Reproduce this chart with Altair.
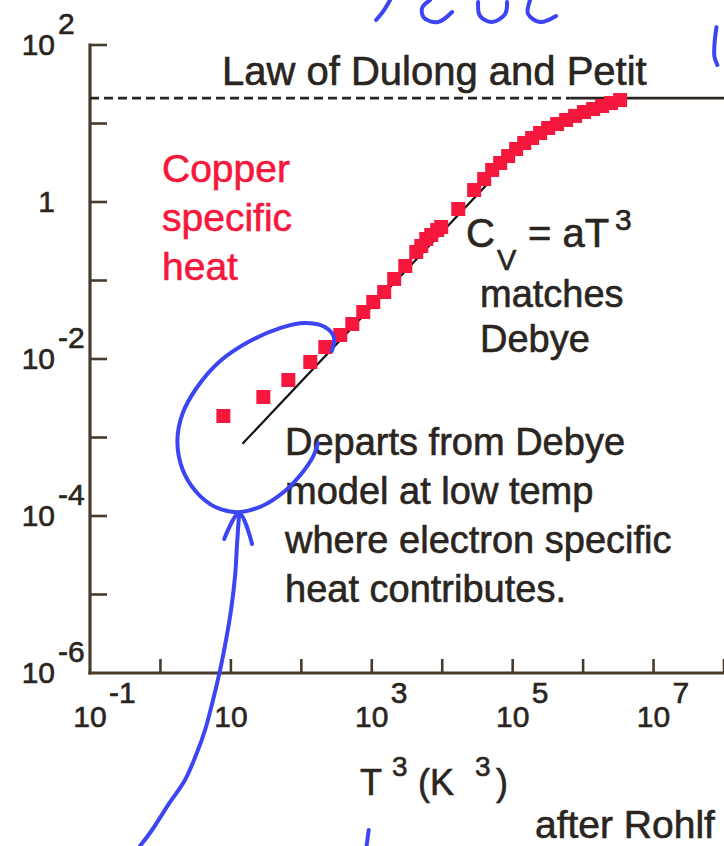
import altair as alt
import pandas as pd

# Copper molar heat capacity C (J/mol K) against T^3 (K^3)
cu_t3 = [7.83, 28.9, 65.4, 134, 219, 357, 529, 757, 1050, 1500, 2080, 2990,
         4280, 5040, 5930, 6980, 8490, 9680, 16900, 28400, 39400, 51200,
         66500, 86300, 1.12e5, 1.46e5, 1.89e5, 2.45e5, 3.19e5, 4.28e5,
         5.74e5, 7.71e5, 1.03e6, 1.39e6, 1.86e6, 2.49e6, 3.35e6]
cu_cv = [1.88e-3, 3.28e-3, 5.40e-3, 9.16e-3, 0.0142, 0.0202, 0.0279, 0.0397,
         0.0532, 0.0714, 0.1045, 0.153, 0.231, 0.275, 0.338, 0.380, 0.440,
         0.481, 0.814, 1.42, 1.96, 2.56, 3.14, 3.85, 4.73, 5.64, 6.53, 7.57,
         8.76, 9.86, 11.1, 12.5, 14.0, 15.3, 16.7, 18.2, 19.9]

# Debye T^3 law segment
debye_t3 = [14.6, 4.8e4]
debye_cv = [8.3e-4, 1.85]

# Dulong-Petit limit
dp_cv = 21.0
dp_dash_t3 = [0.1, 6.6e5]
dp_solid_t3 = [6.6e5, 1.0e8]

# axis ticks and labels
x_ticks = [1, 10, 100, 1e3, 1e4, 1e5, 1e6, 1e7, 1e8]
y_ticks = [1e-5, 1e-4, 1e-3, 1e-2, 0.1, 1, 10, 100]
x_label_vals = [0.1, 10, 1e3, 1e5, 1e7]
x_label_exp = ["-1", "", "3", "5", "7"]
y_label_vals = [100, 1, 1e-2, 1e-4, 1e-6]
y_label_base = ["10", "1", "10", "10", "10"]
y_label_exp = ["2", "", "-2", "-4", "-6"]

# hand-drawn pen marks (in T^3 / C units)
loop_t3 = [271, 289, 216, 112, 49.8, 18.7, 7.06, 3.33, 2.05, 1.74, 2.05,
           3.23, 6.00, 12.7, 27.7, 58.6, 105, 146, 172]
loop_cv = [0.01265, 0.01905, 0.0256, 0.0288, 0.0248, 0.01694, 0.00944,
           0.00440, 0.00199, 0.000902, 0.000397, 0.000202, 0.000130,
           0.000112, 0.000134, 0.000208, 0.000364, 0.000565, 0.000851]
arrow_t3 = [0.513, 0.760, 1.28, 2.23, 3.20, 4.30, 5.58, 7.02, 8.53, 10.05,
            11.5, 12.2, 13.1]
arrow_cv = [6.25e-9, 1.0e-8, 2.08e-8, 4.34e-8, 9.02e-8, 1.88e-7, 4.53e-7,
            1.09e-6, 2.63e-6, 6.35e-6, 1.77e-5, 4.27e-5, 1.09e-4]
head_t3 = [8.04, 13.1, 20.0]
head_cv = [5.09e-5, 1.09e-4, 4.4e-5]
nick_t3 = [847, 904]
nick_cv = [6.44e-9, 1.0e-8]
stem_t3 = [7.82e7, 7.33e7, 7.33e7, 8.07e7]
stem_cv = [169, 103, 70.3, 55.6]
scrawl = {
    "a": ([1819, 1494, 1151], [374, 279, 208]),
    "b": ([6714, 5176, 5521, 8730, 13800], [374, 296, 221, 196, 263]),
    "c": ([32300, 34400, 50900, 78000, 83200], [353, 234, 196, 248, 353]),
    "d": ([176600, 165600, 245000, 413000], [374, 248, 196, 234]),
}

W, H = 634, 628
INK = "#2a2520"
AXIS = "#4a3c2c"
RED = "#f5173c"
PEN = "#3b45f2"
FONT = "Liberation Sans"

xs = alt.Scale(type="log", domain=[0.1, 1.0e8], nice=False)
ys = alt.Scale(type="log", domain=[1e-6, 100], nice=False)


def X(field="t3"):
    return alt.X(f"{field}:Q", scale=xs, axis=None)


def Y(field="cv"):
    return alt.Y(f"{field}:Q", scale=ys, axis=None)


def text_style(size, color=INK, **extra):
    style = dict(font=FONT, fontSize=size, color=color, stroke=color,
                 strokeWidth=0.6, baseline="alphabetic")
    style.update(extra)
    return style


one = pd.DataFrame({"k": [0]})

# axis lines
axes_df = pd.DataFrame({
    "t3": [0.1, 1.0e8, 0.1, 0.1],
    "cv": [1e-6, 1e-6, 1e-6, 100],
    "ax": ["x", "x", "y", "y"],
    "i": [0, 1, 0, 1],
})
axes = alt.Chart(axes_df).mark_line(color=AXIS, strokeWidth=3.2, strokeCap="square").encode(
    x=X(), y=Y(), detail="ax:N", order="i:Q")

xt = alt.Chart(pd.DataFrame({"t3": x_ticks})).mark_rule(color=AXIS, strokeWidth=2.6).encode(
    x=X(), y=alt.value(H), y2=alt.value(H - 14))
yt = alt.Chart(pd.DataFrame({"cv": y_ticks})).mark_rule(color=AXIS, strokeWidth=2.6).encode(
    y=Y(), x=alt.value(0), x2=alt.value(17))

xl_df = pd.DataFrame({"t3": x_label_vals, "exp": x_label_exp})
xl_base = alt.Chart(xl_df).mark_text(**text_style(30, align="center")).encode(
    x=X(), y=alt.value(H + 54), text=alt.value("10"))
xl_exp = alt.Chart(xl_df).mark_text(**text_style(30, align="left", dx=19)).encode(
    x=X(), y=alt.value(H + 30), text="exp:N")

yl_df = pd.DataFrame({"cv": y_label_vals, "base": y_label_base, "exp": y_label_exp})
yl_base = alt.Chart(yl_df).mark_text(**text_style(30, align="right", dy=10)).encode(
    y=Y(), x=alt.value(-35), text="base:N")
yl_exp = alt.Chart(yl_df).mark_text(**text_style(30, align="left", dy=-11)).encode(
    y=Y(), x=alt.value(-32), text="exp:N")

# Dulong-Petit line: dashed, then solid
dp_dash = alt.Chart(pd.DataFrame({"t3": dp_dash_t3, "cv": [dp_cv] * 2})).mark_line(
    color=INK, strokeWidth=2.8, strokeDash=[9, 5]).encode(x=X(), y=Y())
dp_solid = alt.Chart(pd.DataFrame({"t3": dp_solid_t3, "cv": [dp_cv] * 2})).mark_line(
    color=INK, strokeWidth=2.8).encode(x=X(), y=Y())

debye = alt.Chart(pd.DataFrame({"t3": debye_t3, "cv": debye_cv})).mark_line(
    color="#111111", strokeWidth=2.2).encode(x=X(), y=Y())

points = alt.Chart(pd.DataFrame({"t3": cu_t3, "cv": cu_cv})).mark_square(
    color=RED, size=196, opacity=1).encode(x=X(), y=Y())


def note(text, x, y, size, color=INK, line_height=None):
    kw = text_style(size, color=color, align="left")
    if line_height:
        kw["lineHeight"] = line_height
    return alt.Chart(one).mark_text(**kw).encode(
        x=alt.value(x), y=alt.value(y), text=alt.value(text))


notes = [
    note("Law of Dulong and Petit", 132, 40, 40),
    note(["Copper", "specific", "heat"], 72, 137, 39, color=RED, line_height=49),
    note("C", 376, 202, 40),
    note("V", 407, 225, 29),
    note("= aT", 438, 202, 40),
    note("3", 525, 185, 30),
    note(["matches", "Debye"], 390, 262, 38, line_height=45),
    note(["Departs from Debye", "model at low temp",
          "where electron specific", "heat contributes."], 195, 410, 38, line_height=49),
    note("T", 270, 750, 36),
    note("3", 302, 731, 28),
    note("(K", 328, 750, 36),
    note("3", 385, 731, 28),
    note(")", 406, 750, 36),
    note("after Rohlf", 445, 793, 39),
]

# pen strokes
strokes = [("loop", loop_t3, loop_cv), ("arrow", arrow_t3, arrow_cv),
           ("head", head_t3, head_cv), ("nick", nick_t3, nick_cv),
           ("stem", stem_t3, stem_cv)]
strokes += [(k, ts, cs) for k, (ts, cs) in scrawl.items()]
pen_df = pd.concat(
    [pd.DataFrame({"t3": ts, "cv": cs, "stroke": name, "i": list(range(len(ts)))})
     for name, ts, cs in strokes],
    ignore_index=True)
pen = alt.Chart(pen_df).mark_line(color=PEN, strokeWidth=4, strokeCap="round",
                                  strokeJoin="round", interpolate="catmull-rom").encode(
    x=X(), y=Y(), detail="stroke:N", order="i:Q")

chart = alt.layer(
    axes, xt, yt, xl_base, xl_exp, yl_base, yl_exp,
    dp_dash, dp_solid, debye, points, *notes, pen
).properties(
    width=W, height=H,
    autosize=alt.AutoSizeParams(type="none"),
    padding={"left": 90, "top": 45, "right": 0, "bottom": 173},
    background="white",
).configure_view(stroke=None)

chart.save("out.html", embed_options={"renderer": "svg", "actions": False})
